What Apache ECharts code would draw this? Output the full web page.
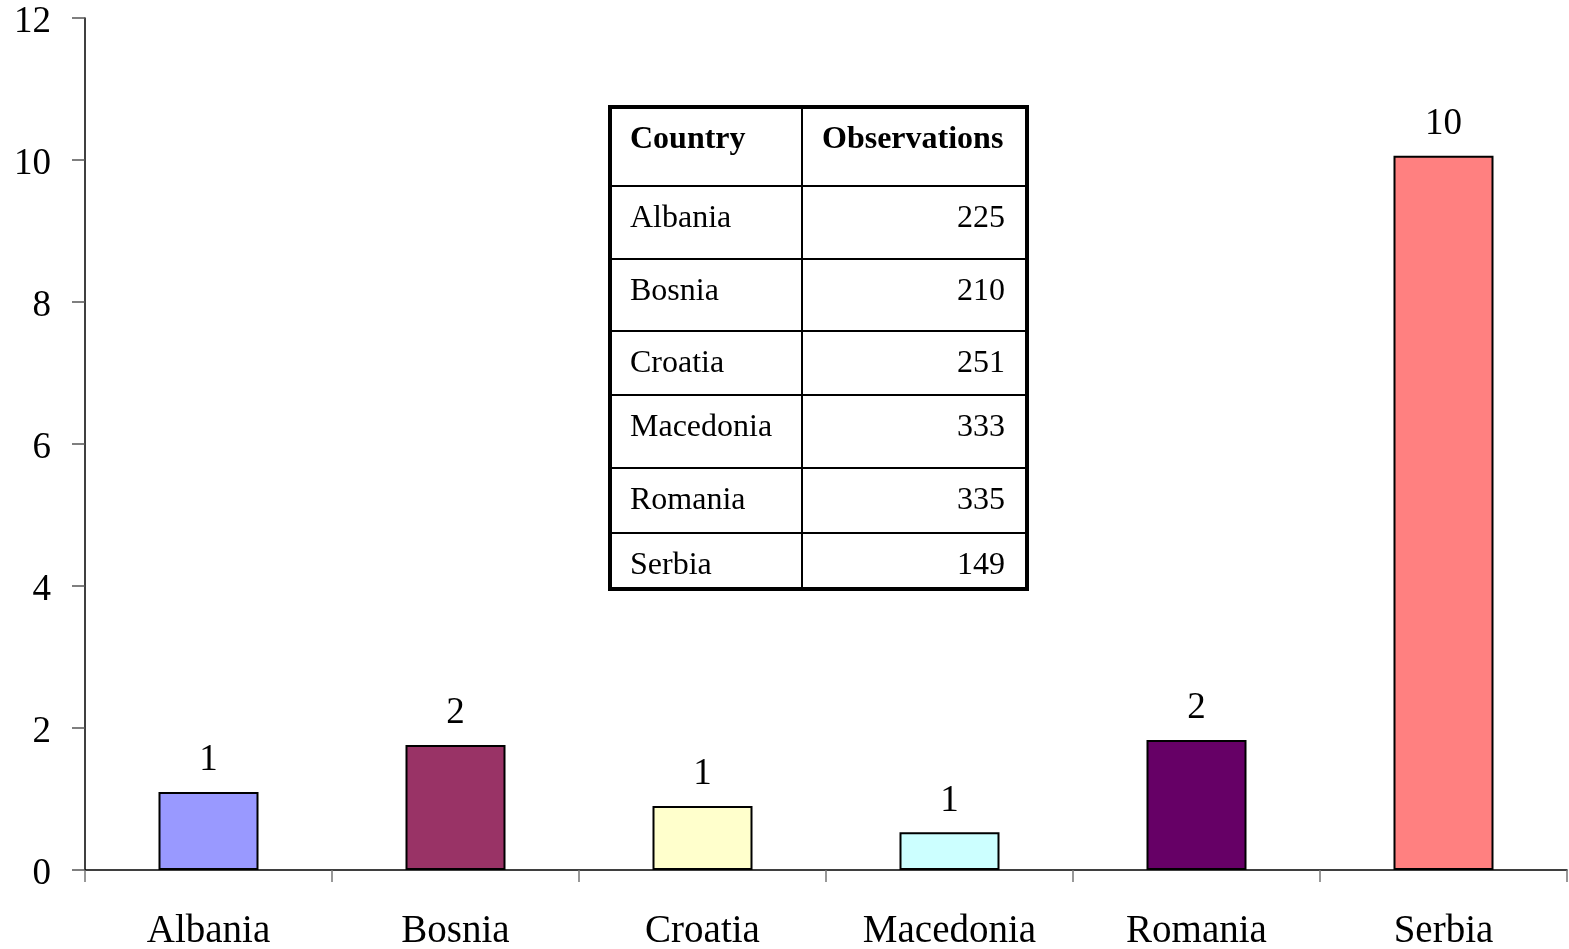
<!DOCTYPE html>
<html>
<head>
<meta charset="utf-8">
<title>Observations by country</title>
<script src="https://cdn.jsdelivr.net/npm/echarts@6/dist/echarts.min.js"></script>
<style>
  html, body { margin: 0; padding: 0; background: #ffffff; }
  #chart { width: 1569px; height: 949px; }
</style>
</head>
<body>
<div id="chart"></div>
<script>
// Chart data
const categories = ['Albania', 'Bosnia', 'Croatia', 'Macedonia', 'Romania', 'Serbia'];
const values = [1.10, 1.76, 0.90, 0.53, 1.83, 10.06];
const barColors = ['#9999FF', '#993366', '#FFFFCC', '#CCFFFF', '#660066', '#FF8080'];
const yTicks = [0, 2, 4, 6, 8, 10, 12];

// Inset table
const tableHeader = ['Country', 'Observations'];
const tableCountries = ['Albania', 'Bosnia', 'Croatia', 'Macedonia', 'Romania', 'Serbia'];
const tableObservations = [225, 210, 251, 333, 335, 149];

const FONT = '"Liberation Serif", "Times New Roman", serif';

// Table layout (pixels)
const tLeft = 610, tRight = 1027, tMid = 802;
const rowEdges = [107, 186, 259, 331, 395, 468, 533, 589];

function buildTable() {
  const els = [];
  const rows = [tableHeader].concat(tableCountries.map((c, i) => [c, String(tableObservations[i])]));
  rows.forEach((r, i) => {
    const yc = rowEdges[i] + 33;
    const bold = i === 0;
    const font = (bold ? 'bold ' : '') + '32px ' + FONT;
    els.push({
      type: 'text', z: 10, x: tLeft + 20, y: yc,
      style: { text: r[0], font: font, fill: '#000', textAlign: 'left', textVerticalAlign: 'middle' }
    });
    els.push({
      type: 'text', z: 10,
      x: bold ? tMid + 20 : tRight - 22, y: yc,
      style: { text: r[1], font: font, fill: '#000',
               textAlign: bold ? 'left' : 'right', textVerticalAlign: 'middle' }
    });
  });
  // inner horizontal rules
  for (let i = 1; i < rowEdges.length - 1; i++) {
    els.push({ type: 'line', z: 9, shape: { x1: tLeft, y1: rowEdges[i], x2: tRight, y2: rowEdges[i] },
               style: { stroke: '#000', lineWidth: 2 } });
  }
  // column divider
  els.push({ type: 'line', z: 9, shape: { x1: tMid, y1: rowEdges[0], x2: tMid, y2: rowEdges[rowEdges.length - 1] },
             style: { stroke: '#000', lineWidth: 2 } });
  // outer frame
  els.push({ type: 'rect', z: 9,
             shape: { x: tLeft, y: rowEdges[0], width: tRight - tLeft, height: rowEdges[rowEdges.length - 1] - rowEdges[0] },
             style: { fill: 'none', stroke: '#000', lineWidth: 4 } });
  return els;
}

const chart = echarts.init(document.getElementById('chart'), null, { renderer: 'canvas' });
chart.setOption({
  animation: false,
  backgroundColor: '#ffffff',
  grid: { left: 85, right: 2, top: 18, bottom: 79, containLabel: false, outerBoundsMode: 'none' },
  xAxis: {
    type: 'category',
    data: categories,
    boundaryGap: true,
    axisLine: { lineStyle: { color: '#000', width: 1.5 } },
    axisTick: { show: true, length: 12, alignWithLabel: false, lineStyle: { color: '#777', width: 1.5 } },
    axisLabel: { color: '#000', fontFamily: FONT, fontSize: 39, margin: 42 },
    splitLine: { show: false }
  },
  yAxis: {
    type: 'value',
    min: yTicks[0],
    max: yTicks[yTicks.length - 1],
    interval: 2,
    axisLine: { show: true, lineStyle: { color: '#000', width: 1.5 } },
    axisTick: { show: true, length: 13, lineStyle: { color: '#555', width: 1.5 } },
    axisLabel: { color: '#000', fontFamily: FONT, fontSize: 37, margin: 34, verticalAlign: 'top', lineHeight: 8 },
    splitLine: { show: false }
  },
  series: [{
    type: 'bar',
    barWidth: 100,
    data: values.map((v, i) => ({ value: v, itemStyle: { color: barColors[i] } })),
    itemStyle: { borderColor: '#000', borderWidth: 2 },
    label: {
      show: true, position: 'top', distance: 13,
      color: '#000', fontFamily: FONT, fontSize: 37,
      formatter: p => String(Math.round(p.value))
    }
  }],
  graphic: buildTable()
});
</script>
</body>
</html>
